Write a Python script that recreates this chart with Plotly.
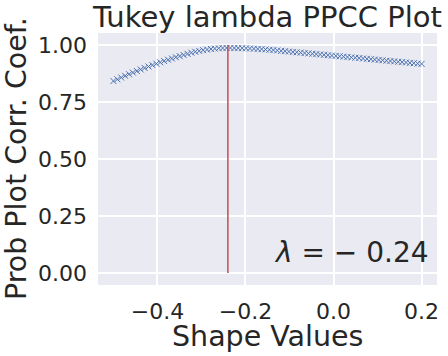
import plotly.graph_objects as go

shape_values = [
    -0.5000, -0.4911, -0.4823, -0.4734, -0.4646, -0.4557, -0.4468, -0.4380, -0.4291, -0.4203,
    -0.4114, -0.4025, -0.3937, -0.3848, -0.3759, -0.3671, -0.3582, -0.3494, -0.3405, -0.3316,
    -0.3228, -0.3139, -0.3051, -0.2962, -0.2873, -0.2785, -0.2696, -0.2608, -0.2519, -0.2430,
    -0.2342, -0.2253, -0.2165, -0.2076, -0.1987, -0.1899, -0.1810, -0.1722, -0.1633, -0.1544,
    -0.1456, -0.1367, -0.1278, -0.1190, -0.1101, -0.1013, -0.0924, -0.0835, -0.0747, -0.0658,
    -0.0570, -0.0481, -0.0392, -0.0304, -0.0215, -0.0127, -0.0038, 0.0051, 0.0139, 0.0228,
    0.0316, 0.0405, 0.0494, 0.0582, 0.0671, 0.0759, 0.0848, 0.0937, 0.1025, 0.1114,
    0.1203, 0.1291, 0.1380, 0.1468, 0.1557, 0.1646, 0.1734, 0.1823, 0.1911, 0.2000,
]
ppcc = [
    0.8420, 0.8497, 0.8573, 0.8647, 0.8719, 0.8790, 0.8859, 0.8926, 0.8992, 0.9056,
    0.9119, 0.9180, 0.9239, 0.9297, 0.9353, 0.9408, 0.9461, 0.9512, 0.9562, 0.9610,
    0.9660, 0.9703, 0.9740, 0.9773, 0.9801, 0.9825, 0.9843, 0.9857, 0.9866, 0.9870,
    0.9870, 0.9868, 0.9865, 0.9861, 0.9855, 0.9848, 0.9839, 0.9829, 0.9818, 0.9805,
    0.9791, 0.9776, 0.9760, 0.9744, 0.9728, 0.9712, 0.9696, 0.9680, 0.9664, 0.9648,
    0.9632, 0.9616, 0.9600, 0.9584, 0.9568, 0.9552, 0.9536, 0.9521, 0.9505, 0.9489,
    0.9473, 0.9457, 0.9441, 0.9425, 0.9409, 0.9393, 0.9377, 0.9361, 0.9345, 0.9329,
    0.9313, 0.9297, 0.9281, 0.9265, 0.9249, 0.9233, 0.9217, 0.9202, 0.9186, 0.9170,
]
best_lambda = -0.24
vline_y = [0.0, 1.0]

x_tickvals = [-0.4, -0.2, 0.0, 0.2]
x_ticktext = ["\u22120.4", "\u22120.2", "0.0", "0.2"]
y_tickvals = [0.0, 0.25, 0.5, 0.75, 1.0]
y_ticktext = ["0.00", "0.25", "0.50", "0.75", "1.00"]

FONT = "DejaVu Sans"
TXT = "#262626"

W, H = 448, 356
ML, MR, MT, MB = 98, 11, 33, 71

fig = go.Figure()
fig.add_trace(go.Scatter(
    x=shape_values, y=ppcc, mode="markers",
    marker=dict(symbol="x-thin", size=6, line=dict(width=1, color="#4C72B0"), color="#4C72B0"),
    showlegend=False, hoverinfo="skip",
))
fig.add_trace(go.Scatter(
    x=[best_lambda, best_lambda], y=vline_y, mode="lines",
    line=dict(color="#C44E52", width=1.5), showlegend=False, hoverinfo="skip",
))

fig.add_annotation(
    x=1.0, y=0.0, xref="paper", yref="paper", xanchor="right", yanchor="bottom",
    xshift=-6, yshift=14,
    text="<i>λ</i> = \u2212 0.24", showarrow=False,
    font=dict(family=FONT, size=28, color=TXT),
)
# axis titles
fig.add_annotation(
    x=0.5, y=0, xref="paper", yref="paper", xanchor="center", yanchor="middle",
    yshift=-(336 - (H - MB)), text="Shape Values", showarrow=False,
    font=dict(family=FONT, size=28.5, color=TXT),
)
fig.add_annotation(
    x=0, y=0.5, xref="paper", yref="paper", xanchor="center", yanchor="middle",
    xshift=-(ML - 16), textangle=-90, text="Prob Plot Corr. Coef.", showarrow=False,
    font=dict(family=FONT, size=28.5, color=TXT),
)

fig.update_layout(
    width=W, height=H,
    margin=dict(l=ML, r=MR, t=MT, b=MB),
    paper_bgcolor="white", plot_bgcolor="#EAEAF2",
    font=dict(family=FONT, color=TXT, size=22),
    title=dict(text="Tukey lambda PPCC Plot", x=0.5, xref="paper", xanchor="center",
               y=1 - 17 / H, yanchor="middle", font=dict(family=FONT, size=29, color=TXT)),
)
fig.update_xaxes(
    range=[-0.535, 0.235], tickvals=x_tickvals, ticktext=x_ticktext, automargin=False,
    showgrid=True, gridcolor="white", gridwidth=1.5, zeroline=False, showline=False,
    ticks="", ticklabelstandoff=11, tickfont=dict(size=22, color=TXT, family=FONT),
)
fig.update_yaxes(
    range=[-0.0526, 1.0526], tickvals=y_tickvals, ticktext=y_ticktext, automargin=False,
    showgrid=True, gridcolor="white", gridwidth=1.5, zeroline=False, showline=False,
    ticks="", ticklabelstandoff=10, tickfont=dict(size=22, color=TXT, family=FONT),
)

fig.write_html("out.html", config={"displayModeBar": False},
               post_script="document.body.style.margin='0';")
